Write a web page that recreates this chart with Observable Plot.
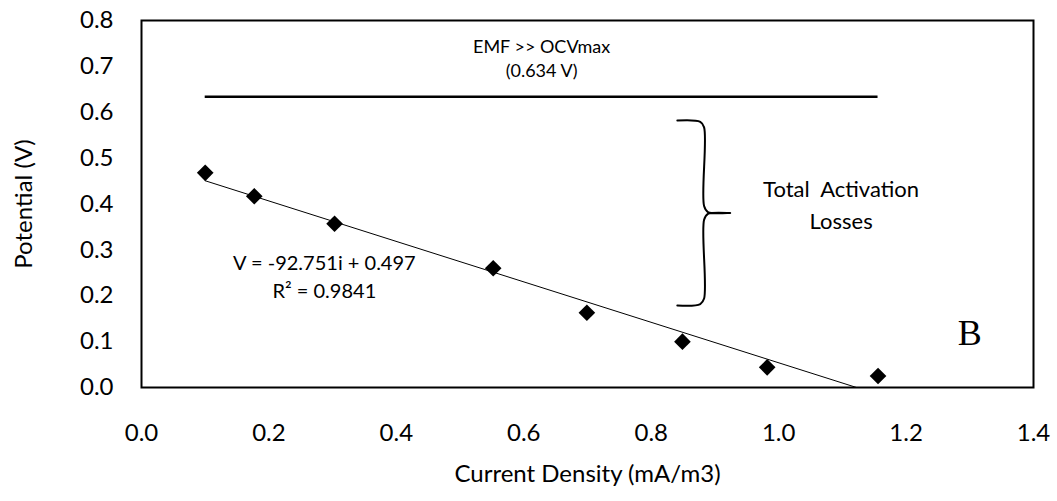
<!DOCTYPE html>
<html>
<head>
<meta charset="utf-8">
<script src="https://cdn.jsdelivr.net/npm/d3@7"></script>
<script src="https://cdn.jsdelivr.net/npm/@observablehq/plot@0.6"></script>
<style>
  body { margin: 0; background: #fff; }
  #chart svg { display: block; }
</style>
</head>
<body>
<div id="chart"></div>
<script>
// Measured polarisation data: current density (mA/m3) vs cell potential (V)
const currentDensity = [0.10, 0.177, 0.303, 0.552, 0.699, 0.849, 0.982, 1.156];
const potential      = [0.468, 0.417, 0.357, 0.260, 0.163, 0.100, 0.044, 0.025];

// Maximum open-circuit voltage reference line
const ocvMax = 0.634;
const ocvLabel = ["EMF >> OCVmax", "(0.634 V)"];

// Bracket spanning the activation losses (V)
const lossTop = 0.582;
const lossBottom = 0.179;
const lossLabel = ["Total  Activation", "Losses"];

// Trendline annotation
const fitLabel = ["V = -92.751i + 0.497", "R\u00b2 = 0.9841"];
const panelLabel = "B";

const xTicks = [0, 0.2, 0.4, 0.6, 0.8, 1.0, 1.2, 1.4];
const yTicks = [0, 0.1, 0.2, 0.3, 0.4, 0.5, 0.6, 0.7, 0.8];

const points = currentDensity.map((x, i) => ({x, y: potential[i]}));
const xMin = d3.min(currentDensity), xMax = d3.max(currentDensity);
const xMid = (xMin + xMax) / 2;

// Curly brace geometry (data coordinates)
const bx0 = 0.841, bx1 = 0.883, bx2 = 0.924;
const bMid = (lossTop + lossBottom) / 2;
const brace = [
  {x: bx0, y: lossTop}, {x: bx1 - 0.006, y: lossTop - 0.003}, {x: bx1, y: lossTop - 0.015},
  {x: bx1, y: bMid + 0.015}, {x: bx1 + 0.006, y: bMid + 0.002}, {x: bx2, y: bMid},
  {x: bx1 + 0.006, y: bMid - 0.002}, {x: bx1, y: bMid - 0.015},
  {x: bx1, y: lossBottom + 0.015}, {x: bx1 - 0.006, y: lossBottom + 0.003}, {x: bx0, y: lossBottom}
];

const font = "Lato, 'Open Sans', sans-serif";

const chart = Plot.plot({
  width: 1057,
  height: 501,
  marginLeft: 141,
  marginRight: 24,
  marginTop: 20,
  marginBottom: 114,
  style: {fontFamily: font, fontSize: "23px", color: "#000", background: "#fff"},
  x: {domain: [0, 1.4]},
  y: {domain: [0, 0.8]},
  marks: [
    Plot.axisX({ticks: xTicks, tickFormat: d3.format(".1f"), tickSize: 0, tickPadding: 36, fontSize: 24,
      label: "Current Density (mA/m3)", labelAnchor: "center", labelArrow: "none", labelOffset: 94}),
    Plot.axisY({ticks: yTicks, tickFormat: d3.format(".1f"), tickSize: 0, tickPadding: 28, fontSize: 24,
      label: "Potential (V)", labelAnchor: "center", labelArrow: "none", labelOffset: 127}),
    Plot.frame({stroke: "#000", strokeWidth: 2}),
    Plot.linearRegressionY(points, {x: "x", y: "y", ci: 0, stroke: "#000", strokeWidth: 1, clip: true}),
    Plot.dot(points, {x: "x", y: "y", symbol: "diamond2", r: 7.5, fill: "#000", stroke: "none"}),
    Plot.ruleY([ocvMax], {x1: xMin, x2: xMax, stroke: "#000", strokeWidth: 2.5}),
    Plot.text([ocvLabel.join("\n")], {x: xMid, y: 0.72, text: d => d, fontSize: 18, lineHeight: 1.35, fill: "#000"}),
    Plot.line(brace, {x: "x", y: "y", stroke: "#000", strokeWidth: 2, curve: "catmull-rom"}),
    Plot.text([lossLabel.join("\n")], {x: 1.098, y: 0.403, text: d => d, fontSize: 22, lineHeight: 1.45, fill: "#000"}),
    Plot.text([fitLabel.join("\n")], {x: 0.287, y: 0.245, text: d => d, fontSize: 20, lineHeight: 1.4, fill: "#000"}),
    Plot.text([panelLabel], {x: 1.30, y: 0.117, text: d => d, fontSize: 36, fontFamily: "'Liberation Serif', 'DejaVu Serif', serif", fill: "#000"})
  ]
});

document.getElementById("chart").appendChild(chart);
</script>
</body>
</html>
